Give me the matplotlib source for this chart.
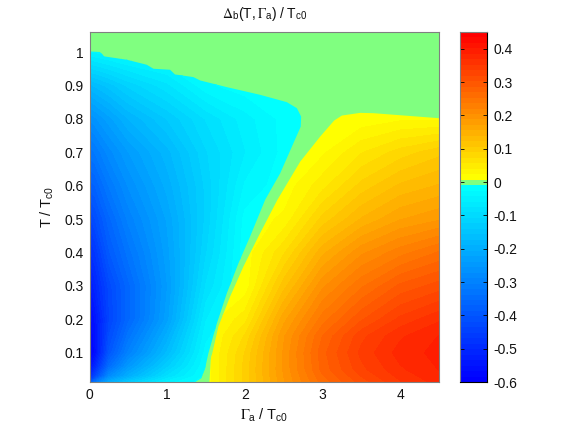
import numpy as np
import matplotlib
matplotlib.use("Agg")
import matplotlib.pyplot as plt
from matplotlib.colors import LinearSegmentedColormap, ListedColormap, Normalize
from matplotlib.cm import ScalarMappable
from matplotlib.patches import Polygon

plt.rcParams['font.family'] = ['Liberation Sans', 'DejaVu Sans']
plt.rcParams['mathtext.fontset'] = 'stix'

# values
gamma_neg = [0, 0.07, 0.25, 0.5, 1, 1.5, 2, 2.5, 3]
T_neg = [0.0125, 0.03, 0.06, 0.1, 0.2, 0.3, 0.4, 0.5, 0.6, 0.7, 0.8, 0.9, 1.0, 1.06]
delta_neg = [
    [-0.42, -0.33, -0.21, -0.14, -0.05, -0.015, -0.015, -0.015, -0.015],
    [-0.50, -0.44, -0.28, -0.20, -0.09, -0.02, -0.015, -0.015, -0.015],
    [-0.56, -0.51, -0.35, -0.25, -0.13, -0.025, -0.015, -0.015, -0.015],
    [-0.59, -0.565, -0.40, -0.30, -0.17, -0.035, -0.015, -0.015, -0.015],
    [-0.58, -0.55, -0.44, -0.36, -0.23, -0.06, -0.015, -0.015, -0.015],
    [-0.54, -0.51, -0.43, -0.36, -0.24, -0.09, -0.015, -0.015, -0.015],
    [-0.49, -0.47, -0.39, -0.33, -0.23, -0.11, -0.015, -0.015, -0.015],
    [-0.44, -0.42, -0.36, -0.30, -0.22, -0.12, -0.02, -0.015, -0.015],
    [-0.38, -0.37, -0.32, -0.27, -0.20, -0.12, -0.04, -0.015, -0.015],
    [-0.33, -0.32, -0.28, -0.24, -0.18, -0.11, -0.06, -0.02, -0.015],
    [-0.27, -0.26, -0.23, -0.19, -0.14, -0.09, -0.05, -0.02, -0.015],
    [-0.18, -0.17, -0.15, -0.12, -0.08, -0.03, -0.015, -0.015, -0.015],
    [-0.04, -0.04, -0.03, -0.02, -0.015, -0.015, -0.015, -0.015, -0.015],
    [-0.015, -0.015, -0.015, -0.015, -0.015, -0.015, -0.015, -0.015, -0.015],
]

gamma_pos = [1.5, 2, 2.5, 3, 3.5, 4, 4.5]
T_pos = [0.0125, 0.05, 0.1, 0.15, 0.2, 0.3, 0.4, 0.5, 0.6, 0.7, 0.8, 0.85]
delta_pos = [
    [0.012, 0.095, 0.185, 0.26, 0.31, 0.35, 0.375],
    [0.012, 0.095, 0.19, 0.275, 0.33, 0.365, 0.385],
    [0.012, 0.09, 0.19, 0.28, 0.34, 0.375, 0.39],
    [0.012, 0.075, 0.185, 0.27, 0.33, 0.365, 0.385],
    [0.012, 0.05, 0.165, 0.245, 0.30, 0.34, 0.365],
    [0.012, 0.012, 0.115, 0.20, 0.25, 0.29, 0.31],
    [0.012, 0.012, 0.07, 0.15, 0.20, 0.23, 0.255],
    [0.012, 0.012, 0.027, 0.095, 0.14, 0.17, 0.185],
    [0.012, 0.012, 0.012, 0.05, 0.095, 0.125, 0.14],
    [0.012, 0.012, 0.012, 0.02, 0.055, 0.08, 0.10],
    [0.012, 0.012, 0.012, 0.012, 0.012, 0.02, 0.02],
    [0.012, 0.012, 0.012, 0.012, 0.012, 0.012, 0.012],
]

# edges of the two non-zero regions
edge_neg_gamma = [0, 0.135, 0.19, 0.48, 0.737, 0.823, 1.037, 1.10, 1.338, 1.424, 1.768, 2.197, 2.541, 2.67, 2.725, 2.72,
                  2.627, 2.455, 2.262, 2.068, 1.918, 1.768, 1.64, 1.53, 1.488, 1.437, 1.36, 0]
edge_neg_T = [1.002, 1.0, 0.987, 0.977, 0.962, 0.95, 0.947, 0.933, 0.925, 0.915, 0.895, 0.872, 0.85, 0.832, 0.807, 0.777,
              0.728, 0.637, 0.558, 0.448, 0.368, 0.278, 0.188, 0.098, 0.053, 0.023, 0.0125, 0.0125]
edge_pos_gamma = [1.544, 1.561, 1.66, 1.81, 1.982, 2.175, 2.42, 2.713, 2.97, 3.15, 3.25, 3.486, 3.657, 4.5, 4.5]
edge_pos_T = [0.0125, 0.079, 0.179, 0.268, 0.358, 0.448, 0.558, 0.672, 0.747, 0.795, 0.81, 0.818, 0.817, 0.802, 0.0125]

x_ticks = [0, 1, 2, 3, 4]
y_ticks = [0.1, 0.2, 0.3, 0.4, 0.5, 0.6, 0.7, 0.8, 0.9, 1]
cb_ticks = [-0.6, -0.5, -0.4, -0.3, -0.2, -0.1, 0, 0.1, 0.2, 0.3, 0.4]
cb_labels = ['-0.6', '-0.5', '-0.4', '-0.3', '-0.2', '-0.1', '0', '0.1', '0.2', '0.3', '0.4']

# 64 colour map, one green entry around zero
blues = LinearSegmentedColormap.from_list('b', [(0, 0, 1), (0, 1, 1)])(np.linspace(0, 1, 36))
reds = LinearSegmentedColormap.from_list('r', [(1, 1, 0), (1, 0, 0)])(np.linspace(0, 1, 27))
green = (0.5, 1, 0.5, 1)
cmap = ListedColormap(np.vstack([blues, [green], reds]))
levels = np.linspace(-0.6, 0.45, 65)
norm = Normalize(-0.6, 0.45)

W, H = 581, 430
fig = plt.figure(figsize=(W / 100, H / 100), dpi=100)
ax = fig.add_axes([89.5 / W, (H - 382) / H, 349.5 / W, 350 / H])
ax.set_facecolor(green)

cs = ax.contourf(gamma_neg, T_neg, np.array(delta_neg), levels=levels, cmap=cmap, norm=norm)
cs.set_clip_path(Polygon(np.column_stack([edge_neg_gamma, edge_neg_T]), transform=ax.transData))
cs = ax.contourf(gamma_pos, T_pos, np.array(delta_pos), levels=levels, cmap=cmap, norm=norm)
cs.set_clip_path(Polygon(np.column_stack([edge_pos_gamma, edge_pos_T]), transform=ax.transData))

ax.set_xlim(0, 4.5)
ax.set_ylim(0.0125, 1.06)
ax.set_xticks(x_ticks)
ax.set_yticks(y_ticks)
ax.set_yticklabels(['0.1', '0.2', '0.3', '0.4', '0.5', '0.6', '0.7', '0.8', '0.9', '1'])
ax.tick_params(length=0, labelsize=10, pad=4, labelcolor='#111111')
for s in ax.spines.values():
    s.set_color('#808080')
    s.set_linewidth(0.8)

rg = r'\mathrm{\Gamma}_{\mathregular{a}}'
tc = r'\mathregular{T}_{\mathregular{c0}}'
ax.set_title(r'$\mathrm{\Delta}_{\mathregular{b}}\mathregular{(T,}' + rg + r'\mathregular{)\ /\ }' + tc + '$',
             fontsize=10, pad=10, color='#111111')
ax.set_xlabel('$' + rg + r'\mathregular{\ /\ }' + tc + '$', fontsize=10.5, labelpad=4, color='#111111')
ax.set_ylabel(r'$\mathregular{T\ /\ }' + tc + '$', fontsize=10.5, labelpad=6, color='#111111')

cax = fig.add_axes([460 / W, (H - 382) / H, 27.5 / W, 350 / H])
cb = fig.colorbar(ScalarMappable(norm=norm, cmap=cmap), cax=cax)
cb.set_ticks(cb_ticks)
cb.set_ticklabels(cb_labels)
cb.ax.minorticks_off()
cax.tick_params(length=3, width=0.6, direction='in', left=True, right=True, labelsize=10, pad=4, labelcolor='#111111')
cb.outline.set_visible(False)
for side, c in [('left', '#808080'), ('top', '#808080'), ('right', 'black'), ('bottom', 'black')]:
    cax.spines[side].set_visible(True)
    cax.spines[side].set_color(c)
    cax.spines[side].set_linewidth(0.8)

plt.savefig("out.png", dpi=100)
